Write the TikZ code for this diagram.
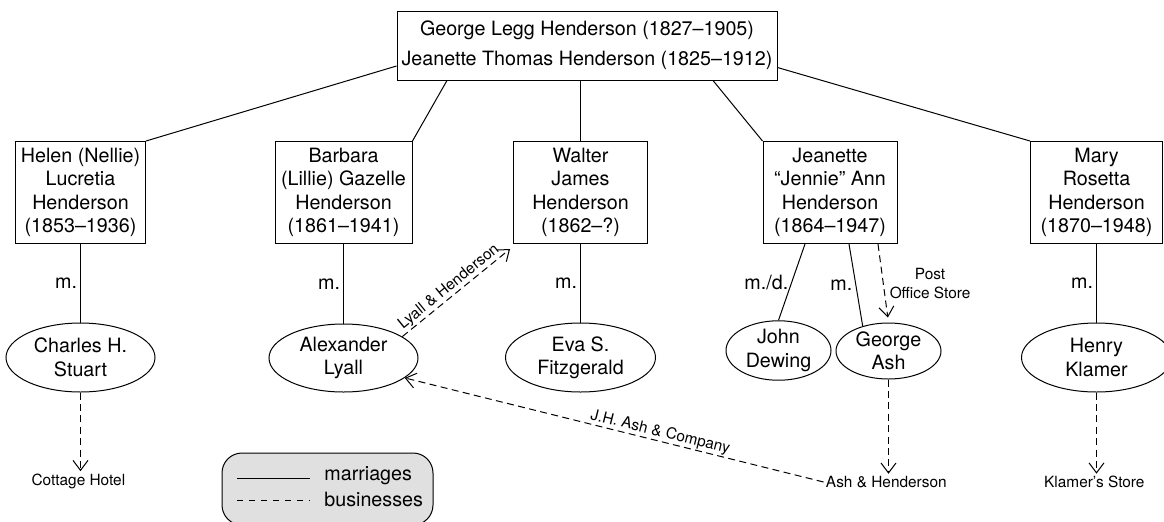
\documentclass[tikz,border=0pt]{standalone}
\usepackage{fontspec}
\setmainfont{TeX Gyre Heros}
\usetikzlibrary{shapes, arrows.meta, positioning}
\colorlet{legendgrey}{black!12!white}
\tikzset{person/.style={draw, rectangle, align=center, inner sep=0pt, minimum height=51pt, line width=0.5pt, font=\fontsize{9.85}{11.7}\selectfont}}
\tikzset{spouse/.style={draw, ellipse, align=center, inner sep=0pt, line width=0.5pt, font=\fontsize{9.85}{11.7}\selectfont}}
\tikzset{wed/.style={draw, line width=0.5pt}}
\tikzset{biz/.style={wed, dash pattern=on 3.5pt off 2.2pt}}
\tikzset{mlabel/.style={font=\fontsize{9.85}{11.7}\selectfont, inner sep=1.5pt}}
\tikzset{place/.style={font=\fontsize{7.7}{9.5}\selectfont, inner sep=1pt, align=center}}

\begin{document}
\begin{tikzpicture}[x=0.5pt, y=-0.5pt, >={Straight Barb[length=5pt, width=7.5pt]}]
            \useasboundingbox (0, 0) rectangle (1164, 521);

            % parents
            \node [person, minimum width=190pt, minimum height=34.5pt] (GH) at (587, 45.5)
                { George Legg Henderson (1827--1905)\\[3.3pt]Jeanette Thomas Henderson (1825--1912) };

            % children
            \node [person, minimum width=65pt] (HL) at (80.5, 192.5) { Helen (Nellie)\\Lucretia\\Henderson\\(1853--1936) };
            \node [person, minimum width=68.5pt] (BL) at (343.5, 192.5) { Barbara\\(Lillie) Gazelle\\Henderson\\(1861--1941) };
            \node [person, minimum width=67pt] (WJ) at (580.5, 192.5) { Walter\\James\\Henderson\\(1862--?) };
            \node [person, minimum width=67pt] (JA) at (830, 192.5) { Jeanette\\``Jennie'' Ann\\Henderson\\(1864--1947) };
            \node [person, minimum width=66pt] (MR) at (1096.5, 192.5) { Mary\\Rosetta\\Henderson\\(1870--1948) };

            % spouses
            \node [spouse, minimum width=74.5pt, minimum height=34.5pt] (CS) at (80.5, 357.5) { Charles H.\\Stuart };
            \node [spouse, minimum width=74.5pt, minimum height=34pt] (AL) at (343.5, 358) { Alexander\\Lyall };
            \node [spouse, minimum width=75pt, minimum height=34.5pt] (ES) at (580.5, 357.5) { Eva S.\\Fitzgerald };
            \node [spouse, minimum width=52.5pt, minimum height=27.5pt] (JD) at (778.5, 350.5) { John\\Dewing };
            \node [spouse, minimum width=52.5pt, minimum height=28pt] (GA) at (888.5, 351) { George\\Ash };
            \node [spouse, minimum width=75pt, minimum height=34.5pt] (HK) at (1096.5, 357.5) { Henry\\Klamer };

            % businesses
            \node [place] (CHo) at (80.5, 481) { Cottage Hotel };
            \node [place] (AHe) at (888.5, 482) { Ash \& Henderson };
            \node [place] (KSt) at (1096.5, 482) { Klamer's Store };

            \draw [wed] ([yshift=-10.25pt]GH.west) -- (HL.north east);
            \draw [wed] ([xshift=-70pt]GH.south) -- (BL.north east);
            \draw [wed] (WJ.north |- GH.south) -- (WJ.north);
            \draw [wed] ([xshift=63pt]GH.south) -- (JA.north west);
            \draw [wed] ([yshift=-11pt]GH.east) -- (MR.north west);

            \draw [wed] (HL.south) -- node [midway, left, mlabel] { m. } (CS.north);
            \draw [wed] (BL.south) -- node [midway, left, mlabel] { m. } (AL.north);
            \draw [wed] (WJ.south) -- node [midway, left, mlabel] { m. } (ES.north);
            \draw [wed] ([xshift=-12.5pt]JA.south) -- node [midway, left, mlabel] { m./d. } (JD.north);
            \draw [wed] ([xshift=9.5pt]JA.south) -- node [midway, left, mlabel] { m. } (GA.136);
            \draw [wed] (MR.south) -- node [midway, left, mlabel] { m. } (HK.north);

            \draw [biz, ->, shorten >=2.5pt] ([xshift=24pt]JA.south) -- node [midway, right, place, xshift=2pt] { Post\\Office Store } (GA.north);
            \draw [biz, ->] (CS) -- (CHo);
            \draw [biz, ->] (GA) -- (AHe);
            \draw [biz, ->] (HK) -- (KSt);
            \draw [biz, ->] (AL.20) -- node [sloped, above, place, inner sep=0.5pt] { Lyall \& Henderson } ([shift={(-1.5pt,-2.5pt)}]WJ.south west);
            \draw [biz, ->] (AHe.west) -- node [pos=0.39, sloped, above, place, inner sep=0.3pt] { J.H. Ash \& Company } (AL.-18);

            % legend
            \node [draw, fill=legendgrey, rounded corners=10pt, line width=0.5pt, minimum width=105.5pt, minimum height=36pt] (LG) at (327.5, 489) {};
            \node [anchor=west, mlabel] (LM) at (321, 475.5) { marriages };
            \node [anchor=west, mlabel] (LB) at (321, 499.5) { businesses };
            \draw [wed] (237, 478) -- (310, 478);
            \draw [biz, dash pattern=on 3pt off 3pt] (237, 500) -- (310, 500);
        \end{tikzpicture}
\end{document}
